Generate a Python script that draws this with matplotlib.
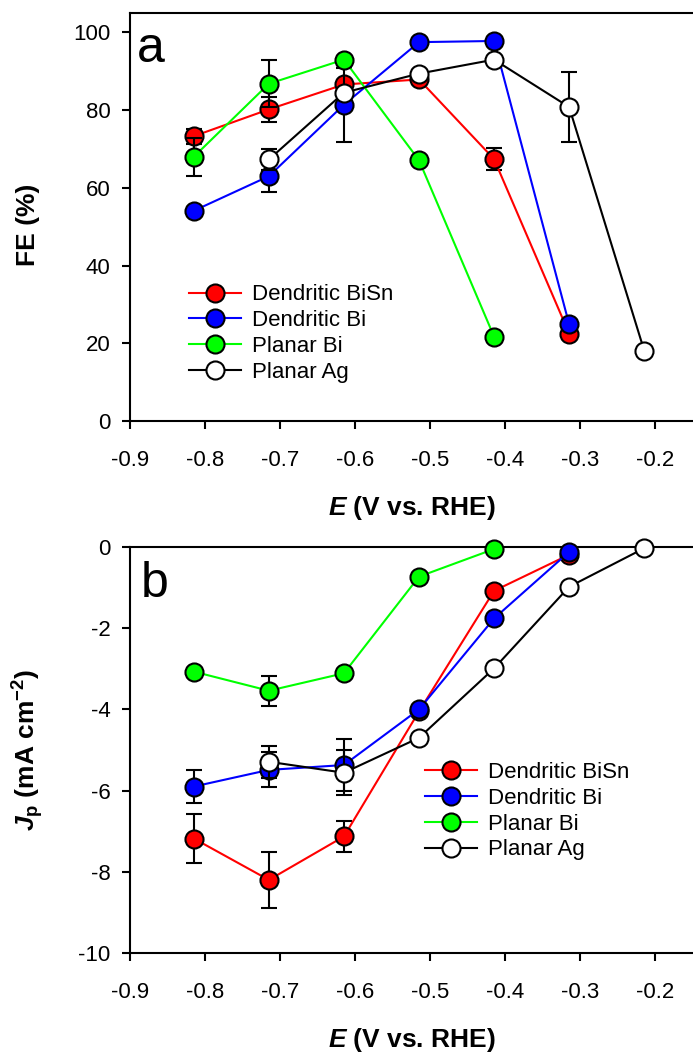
import numpy as np
import matplotlib
matplotlib.use("Agg")
import matplotlib.pyplot as plt

plt.rcParams['font.family'] = ['Liberation Sans', 'DejaVu Sans']
plt.rcParams['axes.unicode_minus'] = False
plt.rcParams['mathtext.fontset'] = 'custom'
plt.rcParams['mathtext.it'] = 'Liberation Sans:italic:bold'
plt.rcParams['mathtext.rm'] = 'Liberation Sans:bold'
plt.rcParams['mathtext.bf'] = 'Liberation Sans:bold'
plt.rcParams['mathtext.default'] = 'rm'

# Applied potential (V vs. RHE)
E = np.array([-0.815, -0.715, -0.615, -0.515, -0.415, -0.315, -0.215])

labels = ['Dendritic BiSn', 'Dendritic Bi', 'Planar Bi', 'Planar Ag']
line_colors = ['#FF0000', '#0000FF', '#00FF00', '#000000']
face_colors = ['#FF0000', '#0000FF', '#00FF00', '#FFFFFF']

# Faradaic efficiency (%)
bisn_fe = [73.3, 80.2, 86.6, 87.9, 67.4, 22.5]
bisn_fe_err = [1.9, 3.3, 0, 0, 2.9, 0]
bi_fe = [54.1, 63.0, 81.4, 97.5, 97.8, 24.9]
bi_fe_err = [0, 4.1, 9.5, 0, 0, 0]
planar_bi_fe = [68.0, 86.8, 93.0, 67.1, 21.7]
planar_bi_fe_err = [4.9, 6.0, 0, 0, 0]
ag_fe = [67.3, 84.5, 89.4, 93.0, 80.8, 18.1]
ag_fe_err = [2.6, 0, 0, 0, 8.9, 0]

# Partial current density (mA cm^-2)
bisn_j = [-7.18, -8.20, -7.13, -4.05, -1.08, -0.19]
bisn_j_err = [0.60, 0.70, 0.38, 0, 0, 0]
bi_j = [-5.90, -5.49, -5.37, -4.00, -1.76, -0.12]
bi_j_err = [0.40, 0.43, 0.64, 0, 0, 0]
planar_bi_j = [-3.07, -3.54, -3.11, -0.73, -0.05]
planar_bi_j_err = [0, 0.37, 0, 0, 0]
ag_j = [-5.29, -5.56, -4.70, -2.99, -0.98, -0.03]
ag_j_err = [0.39, 0.55, 0, 0, 0, 0]

fe_sets = [(E[:6], bisn_fe, bisn_fe_err), (E[:6], bi_fe, bi_fe_err),
           (E[:5], planar_bi_fe, planar_bi_fe_err), (E[1:], ag_fe, ag_fe_err)]
j_sets = [(E[:6], bisn_j, bisn_j_err), (E[:6], bi_j, bi_j_err),
          (E[:5], planar_bi_j, planar_bi_j_err), (E[1:], ag_j, ag_j_err)]

W, H = 693, 1056
fig = plt.figure(figsize=(W / 100, H / 100), dpi=100)
ax1 = fig.add_axes([130 / W, 1 - 421 / H, 563 / W, 408 / H])
ax2 = fig.add_axes([130 / W, 1 - 953 / H, 563 / W, 406 / H])


def draw_series(ax, sets):
    handles = []
    for k, (x, y, err) in enumerate(sets):
        x = np.asarray(x); y = np.asarray(y); err = np.asarray(err, dtype=float)
        z = 3 + 2 * k
        m = err > 0
        if m.any():
            ax.errorbar(x[m], y[m], yerr=err[m], fmt='none', ecolor='black',
                        elinewidth=1.5, capsize=5.5, capthick=1.5, zorder=z)
        h, = ax.plot(x, y, '-o', color=line_colors[k], mfc=face_colors[k],
                     mec='black', ms=13, mew=1.5, lw=1.5, zorder=z + 1,
                     label=labels[k], clip_on=False)
        handles.append(h)
    return handles


def style_axis(ax):
    for side in ['left', 'bottom', 'top']:
        ax.spines[side].set_linewidth(1.5)
    ax.spines['right'].set_visible(False)
    ax.tick_params(axis='both', direction='out', length=6, width=1.5,
                   labelsize=16, top=False, right=False)
    ax.tick_params(axis='x', pad=15)
    ax.tick_params(axis='y', pad=8)
    ax.set_xlim(-0.9, -0.15)
    ax.set_xticks(np.arange(-0.9, -0.15, 0.1))
    ax.set_xticklabels(['%.1f' % v for v in np.arange(-0.9, -0.15, 0.1)])
    ax.set_xlabel(r'$\mathit{E}$ (V vs. RHE)', fontsize=19, fontweight='bold')
    ax.xaxis.label.set_va('center')


h1 = draw_series(ax1, fe_sets)
style_axis(ax1)
ax1.set_ylim(0, 105)
ax1.set_yticks(np.arange(0, 101, 20))
ax1.set_ylabel('FE (%)', fontsize=19, fontweight='bold')
ax1.yaxis.label.set_va('center')
ax1.yaxis.set_label_coords(-0.181, 0.48)
ax1.xaxis.set_label_coords(0.5, -0.213)
ax1.text(0.012, 0.880, 'a', transform=ax1.transAxes, fontsize=36,
         ha='left', va='baseline')
ax1.legend(handles=h1, loc='upper left', bbox_to_anchor=(0.105, 0.335),
           frameon=False, borderpad=0, borderaxespad=0, handlelength=2.34,
           handletextpad=0.5, labelspacing=0.22, fontsize=16)

h2 = draw_series(ax2, j_sets)
style_axis(ax2)
ax2.set_ylim(-10, 0)
ax2.set_yticks(np.arange(-10, 0.1, 2))
ax2.set_yticklabels(['%d' % v for v in np.arange(-10, 0.1, 2)])
ax2.set_ylabel(r'$\mathit{J}_{\mathrm{p}}$ (mA cm$^{\mathrm{-2}}$)', fontsize=19,
               fontweight='bold')
ax2.yaxis.label.set_va('center')
ax2.yaxis.set_label_coords(-0.181, 0.5)
ax2.xaxis.set_label_coords(0.5, -0.214)
ax2.text(0.020, 0.877, 'b', transform=ax2.transAxes, fontsize=36,
         ha='left', va='baseline')
ax2.legend(handles=h2, loc='upper left', bbox_to_anchor=(0.524, 0.471),
           frameon=False, borderpad=0, borderaxespad=0, handlelength=2.34,
           handletextpad=0.5, labelspacing=0.22, fontsize=16)

fig.savefig('out.png', dpi=100)
